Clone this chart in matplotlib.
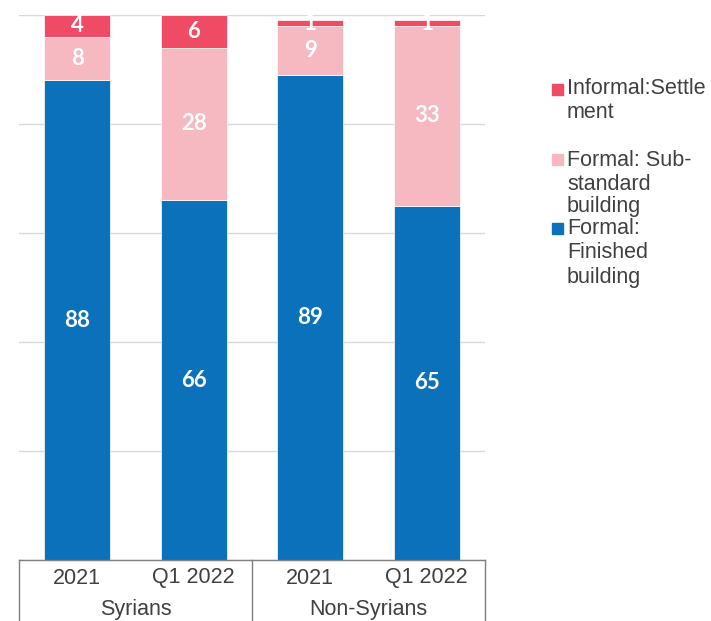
import matplotlib
matplotlib.use("Agg")
import matplotlib.pyplot as plt
from matplotlib.patches import Rectangle
from matplotlib.lines import Line2D

periods = ["2021", "Q1 2022", "2021", "Q1 2022"]
groups = ["Syrians", "Non-Syrians"]
series_names = ["Formal:\nFinished\nbuilding", "Formal: Sub-\nstandard\nbuilding", "Informal:Settle\nment"]
finished = [88, 66, 89, 65]
substandard = [8, 28, 9, 33]
informal = [4, 6, 1, 1]
colors = ["#0B71BA", "#F6B9C1", "#F04B65"]

W, H = 711, 621
fig = plt.figure(figsize=(W / 100, H / 100), dpi=100)
ax_l, ax_r, ax_t, ax_b = 19, 485, 15, 560
ax = fig.add_axes([ax_l / W, 1 - ax_b / H, (ax_r - ax_l) / W, (ax_b - ax_t) / H])

x = list(range(len(periods)))
width = 0.57
series = [finished, substandard, informal]
bottoms = [0] * len(x)
for vals, col in zip(series, colors):
    ax.bar(x, vals, width, bottom=bottoms, color=col, edgecolor="white",
           linewidth=0.5, zorder=2)
    for xi, v, b in zip(x, vals, bottoms):
        t = ax.text(xi, b + v / 2, str(v), ha="center", va="center", color="white",
                    fontsize=16, family="Lato", fontweight="bold", zorder=3)
        t.set_clip_on(True)
    bottoms = [b + v for b, v in zip(bottoms, vals)]

ax.set_xlim(-0.5, 3.5)
ax.set_ylim(0, 100)
ax.set_yticks([0, 20, 40, 60, 80, 100])
ax.yaxis.grid(True, color="#D9D9D9", linewidth=1, zorder=0)
ax.set_axisbelow(True)
ax.tick_params(left=False, labelleft=False, bottom=False, labelbottom=False)
for s in ax.spines.values():
    s.set_visible(False)

txtcol = "#404040"
lc = "#7F7F7F"
FS = 15.5
def fx(px):
    return px / W
def fy(py):
    return 1 - py / H
fig.add_artist(Line2D([fx(ax_l), fx(ax_r)], [fy(ax_b), fy(ax_b)], color=lc, lw=1))
for px in [ax_l, (ax_l + ax_r) / 2, ax_r]:
    fig.add_artist(Line2D([fx(px), fx(px)], [fy(ax_b), 0], color=lc, lw=1))

for xi, p in zip(x, periods):
    t = ax.text(xi, -(578 - ax_b) / (ax_b - ax_t), p, transform=ax.get_xaxis_transform(),
                ha="center", va="center", fontsize=FS, family="Liberation Sans", color=txtcol)
    t.set_clip_on(False)
for gi, g in enumerate(groups):
    fig.text(fx(ax_l + (ax_r - ax_l) * (gi * 2 + 1) / 4), fy(610), g, ha="center", va="center",
             fontsize=FS, family="Liberation Sans", color=txtcol)

leg_items = [(series_names[2], colors[2], 89, [89, 113]),
             (series_names[1], colors[1], 159, [160, 184, 207]),
             (series_names[0], colors[0], 228, [228, 253, 277])]
for name, col, my, ys in leg_items:
    fig.add_artist(Rectangle((fx(552), fy(my + 5.5)), 11 / W, 11 / H, color=col,
                             transform=fig.transFigure))
    for line, yy in zip(name.split("\n"), ys):
        fig.text(fx(567), fy(yy), line, ha="left", va="center", fontsize=FS,
                 family="Liberation Sans", color=txtcol)

fig.savefig("out.png", dpi=100)
